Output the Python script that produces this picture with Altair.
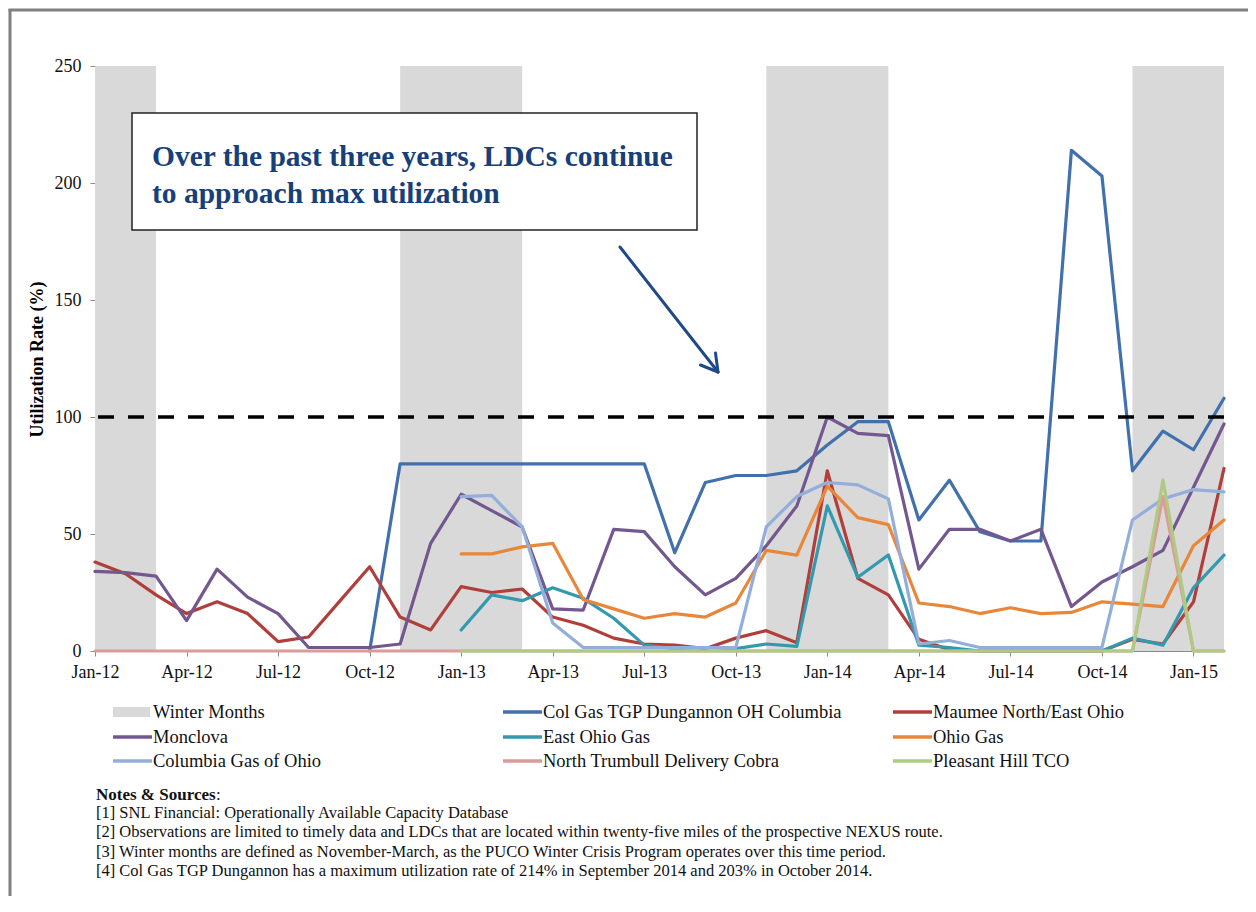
import altair as alt
import pandas as pd

# ---------------- data ----------------
month_labels = list(pd.date_range("2012-01-01", periods=38, freq="MS").strftime("%b-%y"))
N = None

series_names = [
    "Col Gas TGP Dungannon OH Columbia",
    "Maumee North/East Ohio",
    "Monclova",
    "East Ohio Gas",
    "Ohio Gas",
    "Columbia Gas of Ohio",
    "North Trumbull Delivery Cobra",
    "Pleasant Hill TCO",
]
series_colors = ["#4170AD", "#B23E3B", "#73578F", "#3399AE", "#E8873A", "#93AEDA", "#DC9B98", "#AECB82"]

col_gas = [N] * 9 + [0, 80, 80, 80, 80, 80, 80, 80, 80, 80, 42, 72, 75, 75, 77, 88, 98, 98,
                     56, 73, 51, 47, 47, 214, 203, 77, 94, 86, 108]
maumee = [38, 33, 24, 16, 21, 16, 4, 6, 21, 36, 14.5, 9, 27.5, 25, 26.5, 14.5, 11, 5.5, 3, 2.5,
          1, 5.5, 8.7, 3.5, 77, 31, 24, 5, 0.5, 0, 0, 0, 0, 0, 5, 3, 21, 78]
monclova = [34, 33.5, 32, 13, 35, 23, 16, 1.5, 1.5, 1.5, 3, 46, 67, 60, 53, 18, 17.5, 52, 51, 36,
            24, 31, 45, 62, 100, 93, 92, 35, 52, 52, 47, 52, 19, 29.5, 36, 43, 70, 97]
east_ohio = [N] * 12 + [9, 24, 21.5, 27, 22.5, 14, 2.5, 1, 1.5, 1, 3, 2, 62, 31.5, 41, 2.5, 1.5,
                        0, 0, 0, 0, 0, 5.5, 2.5, 27, 41]
ohio_gas = [N] * 12 + [41.5, 41.5, 44.5, 46, 22, 18, 14, 16, 14.5, 20.5, 43, 41, 70.5, 57, 54,
                       20.5, 19, 16, 18.5, 16, 16.5, 21, 20, 19, 45, 56]
columbia = [N] * 12 + [66, 66.5, 53, 12, 1.5, 1.5, 1.5, 1.5, 1.5, 1.5, 53, 66, 72, 71, 65, 3, 4.5,
                       1.5, 1.5, 1.5, 1.5, 1.5, 56, 65, 69, 68]
north_trumbull = [0] * 35 + [66, 0, 0]
pleasant_hill = [N] * 12 + [0] * 23 + [73, 0, 0]
series_values = [col_gas, maumee, monclova, east_ohio, ohio_gas, columbia, north_trumbull, pleasant_hill]

winter_start = ["Jan-12", "Nov-12", "Nov-13", "Nov-14"]
winter_end = ["Mar-12", "Mar-13", "Mar-14", "Feb-15"]

y_ticks = [0, 50, 100, 150, 200, 250]
x_tick_labels = month_labels[::3]

annotation_lines = ["Over the past three years, LDCs continue", "to approach max utilization"]
notes_title = "Notes & Sources"
notes = [
    "[1] SNL Financial: Operationally Available Capacity Database",
    "[2] Observations are limited to timely data and LDCs that are located within twenty-five miles of the prospective NEXUS route.",
    "[3] Winter months are defined as November-March, as the PUCO Winter Crisis Program operates over this time period.",
    "[4] Col Gas TGP Dungannon has a maximum  utilization rate of 214% in September 2014  and 203% in October 2014.",
]

# ---------------- chart ----------------
FONT = "Liberation Serif"
W, H = 1129, 585
one = alt.Data(values=[{}])

label_array = "[" + ",".join("'%s'" % m for m in month_labels) + "]"
x_enc = alt.X(
    "i:Q",
    scale=alt.Scale(domain=[0, len(month_labels) - 1], nice=False, zero=False),
    axis=alt.Axis(
        values=[month_labels.index(m) for m in x_tick_labels],
        labelExpr=label_array + "[datum.value]",
        title=None, grid=False, labelFont=FONT, labelFontSize=18, labelColor="#111111",
        domainColor="#8C8C8C", tickColor="#8C8C8C", tickSize=5, labelPadding=7,
        labelFlush=False,
    ),
)
y_enc = alt.Y(
    "v:Q",
    scale=alt.Scale(domain=[0, 250], nice=False),
    axis=alt.Axis(
        values=y_ticks, title="Utilization Rate (%)", grid=False, labelFont=FONT, labelFontSize=18,
        labelColor="#111111", domainColor="#8C8C8C", tickColor="#8C8C8C", tickSize=5,
        labelPadding=9, titleFont=FONT, titleFontSize=18, titleFontWeight="bold",
        titleColor="#000000", titleX=-58, titleY=293, titleAngle=270, titleBaseline="middle",
        titleAlign="center",
    ),
)

winter_df = pd.DataFrame({
    "i": [month_labels.index(m) for m in winter_start],
    "i2": [month_labels.index(m) for m in winter_end],
})
winter = alt.Chart(winter_df).mark_rect(color="#D9D9D9").encode(
    x=x_enc, x2="i2:Q", y=alt.datum(0, type="quantitative"), y2=alt.datum(250)
)

layers = [winter]
for name, color, vals in zip(series_names, series_colors, series_values):
    df = pd.DataFrame({"i": range(len(month_labels)), "v": vals})
    df = df.dropna()
    layers.append(
        alt.Chart(df).mark_line(color=color, strokeWidth=3.2, strokeJoin="round", strokeCap="round")
        .encode(x=x_enc, y=y_enc)
    )

max_line = alt.Chart(one).mark_rule(color="black", strokeWidth=3.5, strokeDash=[16, 14]).encode(
    y=alt.datum(100, type="quantitative")
)
layers.append(max_line)

# annotation box, text and arrow (page px minus plot origin 95, 66)
box = alt.Chart(one).mark_rect(fill="white", stroke="#222222", strokeWidth=1.5).encode(
    x=alt.value(37), x2=alt.value(602), y=alt.value(47), y2=alt.value(164)
)
layers.append(box)
for k, line in enumerate(annotation_lines):
    layers.append(
        alt.Chart(one).mark_text(align="left", baseline="alphabetic", font=FONT, fontWeight="bold",
                                 fontSize=29.5, color="#17407A")
        .encode(x=alt.value(57), y=alt.value(100 + 37 * k), text=alt.value(line))
    )
ARROW = "#1F4A86"
tip = (623, 306)
layers.append(alt.Chart(one).mark_rule(color=ARROW, strokeWidth=3, strokeCap="round").encode(
    x=alt.value(525), y=alt.value(181), x2=alt.value(tip[0]), y2=alt.value(tip[1])))
for ex, ey in [(620.5, 287), (605.5, 299)]:
    layers.append(alt.Chart(one).mark_rule(color=ARROW, strokeWidth=3, strokeCap="round").encode(
        x=alt.value(tip[0]), y=alt.value(tip[1]), x2=alt.value(ex), y2=alt.value(ey)))

# legend (3 columns, row-major)
legend_names = ["Winter Months"] + series_names
legend_colors = ["#D9D9D9"] + series_colors
col_x = [18, 408, 798]
row_y = [646, 671, 695]
for idx, (name, color) in enumerate(zip(legend_names, legend_colors)):
    cx, ry = col_x[idx % 3], row_y[idx // 3]
    if idx == 0:
        sym = alt.Chart(one).mark_rect(color=color).encode(
            x=alt.value(cx), x2=alt.value(cx + 37), y=alt.value(ry - 5), y2=alt.value(ry + 5))
    else:
        sym = alt.Chart(one).mark_rule(color=color, strokeWidth=3.5).encode(
            x=alt.value(cx), x2=alt.value(cx + 39), y=alt.value(ry))
    txt = alt.Chart(one).mark_text(align="left", baseline="middle", font=FONT, fontSize=18.5,
                                   color="#111111").encode(
        x=alt.value(cx + 40), y=alt.value(ry), text=alt.value(name))
    layers += [sym, txt]

# notes
layers.append(alt.Chart(one).mark_text(align="left", baseline="middle", font=FONT, fontSize=17,
                                       fontWeight="bold", color="#111111").encode(
    x=alt.value(1), y=alt.value(729), text=alt.value(notes_title)))
layers.append(alt.Chart(one).mark_text(align="left", baseline="middle", font=FONT, fontSize=17,
                                       color="#111111").encode(
    x=alt.value(121), y=alt.value(729), text=alt.value(":")))
for k, note in enumerate(notes):
    layers.append(alt.Chart(one).mark_text(align="left", baseline="middle", font=FONT, fontSize=16.5,
                                           color="#111111").encode(
        x=alt.value(1), y=alt.value(747 + 19.3 * k), text=alt.value(note)))

# outer frame (left and top edges)
FRAME = "#808080"
layers.append(alt.Chart(one).mark_rule(color=FRAME, strokeWidth=3).encode(
    x=alt.value(-85), y=alt.value(-57), y2=alt.value(900)))
layers.append(alt.Chart(one).mark_rule(color=FRAME, strokeWidth=3).encode(
    x=alt.value(-86.5), x2=alt.value(1200), y=alt.value(-56)))

chart = alt.layer(*layers).properties(
    width=W, height=H,
    autosize=alt.AutoSizeParams(type="none"),
    padding={"left": 87, "top": 58, "right": 24, "bottom": 245},
    background="white",
).configure_view(stroke=None)

chart.save("out.html", embed_options={"renderer": "svg", "actions": False})
